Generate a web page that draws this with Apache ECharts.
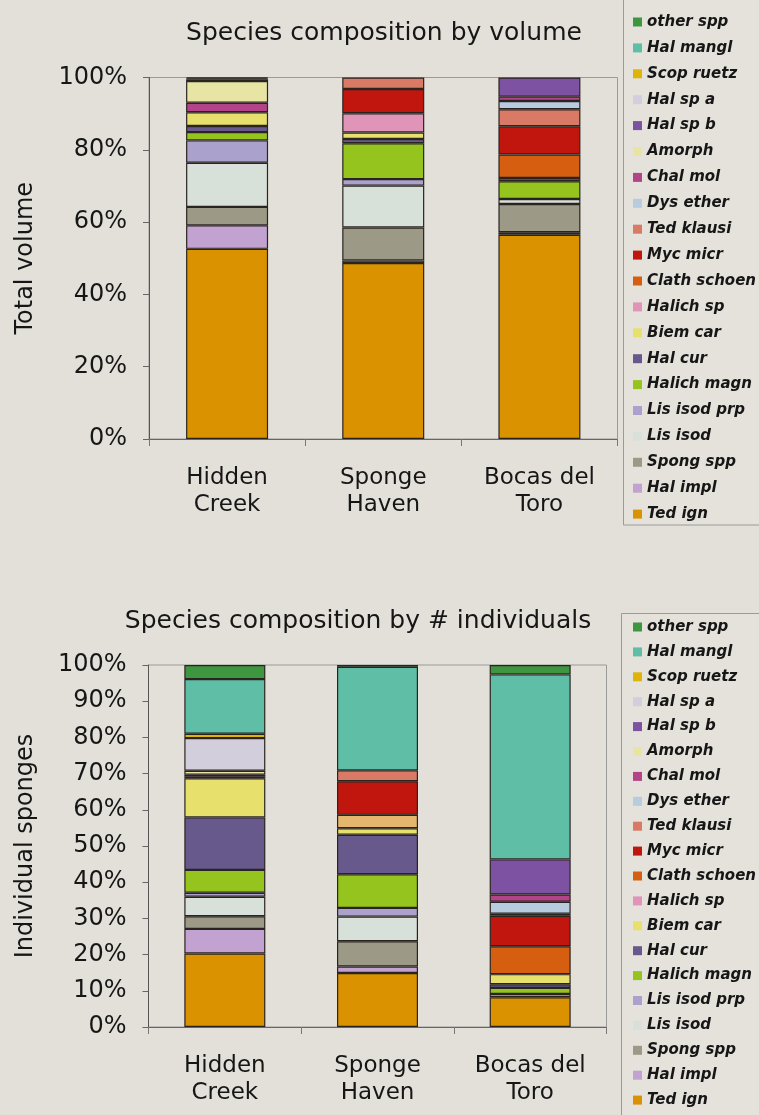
<!DOCTYPE html>
<html>
<head>
<meta charset="utf-8">
<script src="https://cdn.jsdelivr.net/npm/echarts@6/dist/echarts.min.js"></script>
<style>
html,body{margin:0;padding:0;background:#e3e0da;}
#c{width:759px;height:1115px;}
</style>
</head>
<body>
<div id="c"></div>
<script>
// ---- data ----
const categories = ['Hidden\nCreek', 'Sponge\nHaven', 'Bocas del\nToro'];
// stacking order, bottom to top
const species = ['Ted ign','Hal impl','Spong spp','Lis isod','Lis isod prp','Halich magn','Hal cur','Biem car','Halich sp','Clath schoen','Myc micr','Ted klausi','Dys ether','Chal mol','Amorph','Hal sp b','Hal sp a','Scop ruetz','Hal mangl','other spp'];

// % of total volume per site [Hidden Creek, Sponge Haven, Bocas del Toro]
const volTedIgn      = [52.6, 48.7, 56.5];
const volHalImpl     = [6.5, 0.7, 0.7];
const volSpongSpp    = [5.1, 9.1, 7.8];
const volLisIsod     = [12.2, 11.6, 1.4];
const volLisIsodPrp  = [6.2, 1.8, 0];
const volHalichMagn  = [2.3, 9.9, 4.9];
const volHalCur      = [1.7, 1.2, 0.9];
const volBiemCar     = [3.8, 1.8, 0];
const volHalichSp    = [0, 5.3, 0];
const volClathSchoen = [0, 0, 6.5];
const volMycMicr     = [0, 6.7, 7.8];
const volTedKlausi   = [0, 3.2, 4.7];
const volDysEther    = [0, 0, 2.3];
const volChalMol     = [2.6, 0, 1.2];
const volAmorph      = [6.0, 0, 0];
const volHalSpB      = [0.5, 0, 5.3];
const volHalSpA      = [0, 0, 0];
const volScopRuetz   = [0, 0, 0];
const volHalMangl    = [0.3, 0, 0];
const volOtherSpp    = [0.2, 0, 0];

// % of individual sponges per site
const indTedIgn      = [20.3, 14.9, 8.2];
const indHalImpl     = [6.8, 1.8, 0.9];
const indSpongSpp    = [3.5, 7.0, 0];
const indLisIsod     = [5.4, 6.8, 0];
const indLisIsodPrp  = [1.1, 2.4, 0];
const indHalichMagn  = [6.3, 9.3, 1.7];
const indHalCur      = [14.5, 10.9, 1.0];
const indBiemCar     = [10.8, 1.8, 2.8];
const indHalichSp    = [0, 0, 0];
const indClathSchoen = [0, 3.7, 7.7];
const indMycMicr     = [0, 9.3, 8.4];
const indTedKlausi   = [0, 3.0, 0.6];
const indDysEther    = [0.4, 0, 3.3];
const indChalMol     = [0.6, 0, 2.0];
const indAmorph      = [1.1, 0, 0];
const indHalSpB      = [0, 0, 9.7];
const indHalSpA      = [9.0, 0, 0];
const indScopRuetz   = [1.2, 0, 0];
const indHalMangl    = [15.1, 28.6, 51.1];
const indOtherSpp    = [3.9, 0.5, 2.6];

const volTicks = [0, 20, 40, 60, 80, 100];
const indTicks = [0, 10, 20, 30, 40, 50, 60, 70, 80, 90, 100];

const volData = [volTedIgn, volHalImpl, volSpongSpp, volLisIsod, volLisIsodPrp, volHalichMagn, volHalCur, volBiemCar, volHalichSp, volClathSchoen, volMycMicr, volTedKlausi, volDysEther, volChalMol, volAmorph, volHalSpB, volHalSpA, volScopRuetz, volHalMangl, volOtherSpp];
const indData = [indTedIgn, indHalImpl, indSpongSpp, indLisIsod, indLisIsodPrp, indHalichMagn, indHalCur, indBiemCar, indHalichSp, indClathSchoen, indMycMicr, indTedKlausi, indDysEther, indChalMol, indAmorph, indHalSpB, indHalSpA, indScopRuetz, indHalMangl, indOtherSpp];

// ---- styles ----
const colors = {
  'other spp': '#3e9640', 'Hal mangl': '#5fbfa6', 'Scop ruetz': '#dcb40a', 'Hal sp a': '#d2cedc',
  'Hal sp b': '#7e52a2', 'Amorph': '#e8e4a4', 'Chal mol': '#b4448a', 'Dys ether': '#b8cce0',
  'Ted klausi': '#d87a66', 'Myc micr': '#c0160e', 'Clath schoen': '#d65e10', 'Halich sp': '#e094b8',
  'Biem car': '#e8e06c', 'Hal cur': '#68598c', 'Halich magn': '#96c41e', 'Lis isod prp': '#aaa2cc',
  'Lis isod': '#d8e0da', 'Spong spp': '#9c9a86', 'Hal impl': '#c2a2d0', 'Ted ign': '#da9200'
};
const indColorOverride = { 'Clath schoen': { 1: '#e4b66e' } };

const FONT = '"DejaVu Sans", Verdana, sans-serif';
const TXT = '#161616';

function makeSeries(dataSets, axisIdx, stackName, barW, overrides) {
  return species.map((name, i) => ({
    name: name,
    type: 'bar',
    stack: stackName,
    xAxisIndex: axisIdx,
    yAxisIndex: axisIdx,
    barWidth: barW,
    itemStyle: { color: colors[name], borderColor: '#2a2420', borderWidth: 1.2 },
    emphasis: { disabled: true },
    data: dataSets[i].map((v, j) => {
      if (!v) return '-';
      const ov = overrides && overrides[name] && overrides[name][j];
      return ov ? { value: v, itemStyle: { color: ov } } : v;
    })
  }));
}

function yAxis(gridIndex, ticks, name) {
  return {
    type: 'value', gridIndex: gridIndex, min: ticks[0], max: ticks[ticks.length - 1],
    interval: ticks[1] - ticks[0],
    name: name, nameLocation: 'middle', nameGap: 111,
    nameTextStyle: { fontFamily: FONT, fontSize: 24, color: TXT },
    axisLine: { show: true, lineStyle: { color: '#555', width: 1 } },
    axisTick: { show: true, length: 6, lineStyle: { color: '#666' } },
    splitLine: { show: false },
    axisLabel: { formatter: '{value}%', fontFamily: FONT, fontSize: 24, color: TXT, margin: 22 }
  };
}
function xAxis(gridIndex) {
  return {
    type: 'category', gridIndex: gridIndex, data: categories,
    axisLine: { show: true, lineStyle: { color: '#666', width: 1 } },
    axisTick: { show: true, length: 7, interval: 0, lineStyle: { color: '#777' } },
    axisLabel: { fontFamily: FONT, fontSize: 23, lineHeight: 27, color: TXT, margin: 26, interval: 0 }
  };
}
function legend(top, padding, gap) {
  return {
    orient: 'vertical', left: 623, top: top, padding: padding, itemGap: gap,
    data: species.slice().reverse(),
    icon: 'rect', itemWidth: 9, itemHeight: 9,
    itemStyle: { borderWidth: 0 },
    selectedMode: false,
    textStyle: { fontFamily: FONT, fontSize: 15, fontStyle: 'italic', fontWeight: 'bold', color: TXT, lineHeight: 18 }
  };
}

const chart = echarts.init(document.getElementById('c'), null, { renderer: 'canvas' });
chart.setOption({
  backgroundColor: '#e3e0da',
  animation: false,
  graphic: [
    { type: 'rect', z: -1, shape: { x: 623.5, y: -5, width: 150, height: 530 },
      style: { fill: '#e5e2dc', stroke: '#9a9a9a', lineWidth: 1 } },
    { type: 'rect', z: -1, shape: { x: 621.5, y: 613.5, width: 150, height: 520 },
      style: { fill: '#e5e2dc', stroke: '#9a9a9a', lineWidth: 1 } }
  ],
  title: [
    { text: 'Species composition by volume', left: 384, textAlign: 'center', top: 21, padding: 0,
      textStyle: { fontFamily: FONT, fontSize: 25, fontWeight: 'normal', color: TXT } },
    { text: 'Species composition by # individuals', left: 358, textAlign: 'center', top: 609, padding: 0,
      textStyle: { fontFamily: FONT, fontSize: 25, fontWeight: 'normal', color: TXT } }
  ],
  legend: [ legend(-2, [15, 14, 0, 10], 7.9), legend(613, [5, 14, 0, 10], 6.9) ],
  grid: [
    { left: 149, top: 77.5, width: 468.5, height: 361.5, show: true, borderColor: '#9a9a9a', borderWidth: 1, backgroundColor: 'transparent' },
    { left: 148.5, top: 665, width: 458, height: 362, show: true, borderColor: '#9a9a9a', borderWidth: 1, backgroundColor: 'transparent' }
  ],
  xAxis: [ xAxis(0), xAxis(1) ],
  yAxis: [ yAxis(0, volTicks, 'Total volume'), yAxis(1, indTicks, 'Individual sponges') ],
  series: makeSeries(volData, 0, 'vol', 82, null).concat(makeSeries(indData, 1, 'ind', 81, indColorOverride))
});
</script>
</body>
</html>
